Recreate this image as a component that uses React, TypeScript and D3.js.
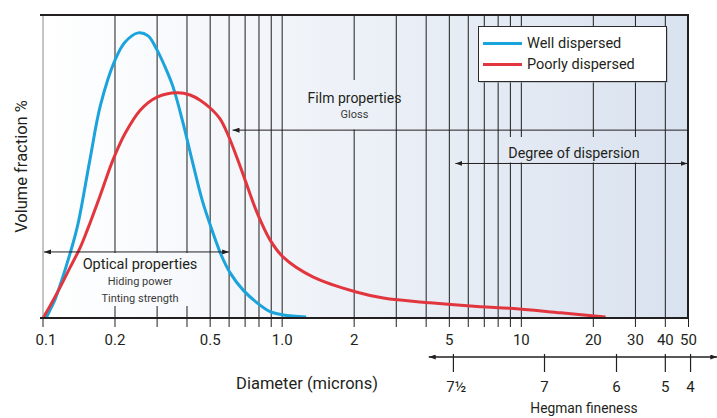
import * as d3 from 'd3';

// diameter (microns) vs volume fraction (% of peak scale)
const WELL: [number, number][] = [
  [0.103, 0], [0.107, 2.6], [0.112, 5.9], [0.118, 10.9], [0.13, 21.5], [0.14, 31.0],
  [0.157, 52.1], [0.174, 70.3], [0.2, 85.1], [0.22, 91.0], [0.25, 94.1], [0.275, 93.1],
  [0.3, 88.4], [0.324, 82.8], [0.35, 76.2], [0.385, 64.4], [0.42, 52.1], [0.463, 38.9],
  [0.509, 29.0], [0.556, 20.8], [0.606, 14.9], [0.687, 9.2], [0.786, 5.0], [0.891, 2.1],
  [1.01, 1.0], [1.26, 0.3],
];
const POOR: [number, number][] = [
  [0.1, 0], [0.107, 4.0], [0.118, 10.2], [0.13, 16.8], [0.143, 23.2], [0.154, 29.5],
  [0.173, 40.2], [0.196, 52.1], [0.22, 60.8], [0.255, 68.6], [0.3, 72.9], [0.364, 74.3],
  [0.412, 73.6], [0.454, 71.9], [0.5, 69.3], [0.55, 65.7], [0.594, 60.4], [0.648, 52.8],
  [0.7, 45.5], [0.786, 34.7], [0.891, 25.7], [1.01, 20.1], [1.35, 13.5], [2.04, 8.6],
  [2.65, 6.6], [4.16, 5.0], [6.74, 3.7], [9.0, 3.2], [14.6, 1.7], [22.5, 0.3],
];

const GRID_TICKS = [0.2, 0.3, 0.4, 0.5, 0.6, 0.7, 0.8, 0.9, 1, 2, 3, 4, 5, 6, 7, 8, 9, 10, 20, 30, 40, 50];
const AXIS_TICKS = [0.1, ...GRID_TICKS];
const TICK_LABELS: [number, string][] = [
  [0.1, '0.1'], [0.2, '0.2'], [0.5, '0.5'], [1, '1.0'], [2, '2'], [5, '5'],
  [10, '10'], [20, '20'], [30, '30'], [40, '40'], [50, '50'],
];
// Hegman fineness grades placed against the micron scale
const HEGMAN: [number, string][] = [[5.2, '7½'], [12.5, '7'], [25, '6'], [40, '5'], [51, '4']];
const HEGMAN_RANGE = [4.1, 66];

const SERIES = [
  { name: 'Well dispersed', data: WELL, color: '#1ba3dc' },
  { name: 'Poorly dispersed', data: POOR, color: '#e2363f' },
];

const FONT = 'Roboto, "Liberation Sans", sans-serif';
const INK = '#231f20';

const x = d3.scaleLog().domain([0.1, 50]).range([43, 688.5]);
const y = d3.scaleLinear().domain([0, 100]).range([318, 15]);
const line = d3.line<[number, number]>().x(d => x(d[0])).y(d => y(d[1])).curve(d3.curveCatmullRom.alpha(0.5));

export default function App() {
  const optY = y(21.8);
  const filmY = y(62);
  const degY = y(51);
  return (
    <div style={{ position: 'fixed', left: 0, top: 0 }}>
      <svg width={717} height={418} style={{ display: 'block', fontFamily: FONT }}>
        <defs>
          <linearGradient id="bg" gradientUnits="userSpaceOnUse" x1={43} x2={688} y1={0} y2={0}>
            <stop offset="0" stopColor="#ffffff" />
            <stop offset="1" stopColor="#d9e2ef" />
          </linearGradient>
          <marker id="arr" viewBox="0 0 7 5" refX={7} refY={2.5} markerWidth={7} markerHeight={5}
            markerUnits="userSpaceOnUse" orient="auto-start-reverse">
            <path d="M0,0 L7,2.5 L0,5 Z" fill={INK} />
          </marker>
        </defs>
        <rect width={717} height={418} fill="#fff" />
        <rect x={43} y={15} width={645} height={303} fill="url(#bg)" />

        {/* grid */}
        {GRID_TICKS.map(t => (
          <line key={t} x1={x(t)} x2={x(t)} y1={15} y2={318} stroke="#1e1e1e" strokeWidth={1} />
        ))}
        {/* label knock-outs */}
        <rect x={80} y={253} width={120} height={53} fill="url(#bg)" />
        <rect x={305} y={80} width={90} height={49.5} fill="url(#bg)" />
        <rect x={505} y={137} width={140} height={25.5} fill="url(#bg)" />

        {/* curves */}
        {SERIES.map(s => (
          <path key={s.name} d={line(s.data) ?? ''} fill="none" stroke={s.color} strokeWidth={3} strokeLinejoin="round" />
        ))}

        {/* optical properties */}
        <line x1={x(0.1) + 1} x2={x(0.6)} y1={optY} y2={optY} stroke={INK} strokeWidth={1}
          markerStart="url(#arr)" markerEnd="url(#arr)" />
        <text x={140} y={269} textAnchor="middle" fontSize={14.5} fill={INK}>Optical properties</text>
        <text x={140} y={285} textAnchor="middle" fontSize={11} fill="#3a3a3a">Hiding power</text>
        <text x={140} y={301.5} textAnchor="middle" fontSize={11} fill="#3a3a3a">Tinting strength</text>

        {/* film properties */}
        <line x1={x(0.62)} x2={x(50)} y1={filmY} y2={filmY} stroke={INK} strokeWidth={1}
          markerStart="url(#arr)" />
        <text x={354.5} y={103} textAnchor="middle" fontSize={14} fill={INK}>Film properties</text>
        <text x={354.5} y={118} textAnchor="middle" fontSize={11} fill="#3a3a3a">Gloss</text>

        {/* degree of dispersion */}
        <line x1={x(5.3)} x2={x(50) - 1} y1={degY} y2={degY} stroke={INK} strokeWidth={1}
          markerStart="url(#arr)" markerEnd="url(#arr)" />
        <text x={574} y={158} textAnchor="middle" fontSize={14.3} fill={INK}>Degree of dispersion</text>

        {/* frame */}
        <line x1={43} x2={43} y1={15} y2={318} stroke="#8a8a8a" strokeWidth={1} />
        <line x1={688} x2={688} y1={15} y2={318} stroke={INK} strokeWidth={2} />
        <line x1={40} x2={689} y1={15} y2={15} stroke={INK} strokeWidth={2.2} />
        <line x1={40} x2={689} y1={318} y2={318} stroke={INK} strokeWidth={2.2} />
        {AXIS_TICKS.map(t => (
          <line key={t} x1={x(t)} x2={x(t)} y1={318} y2={327} stroke={INK} strokeWidth={1} />
        ))}
        {TICK_LABELS.map(([t, l]) => (
          <text key={t} x={x(t) + (t === 0.1 ? 3 : 0)} y={345} textAnchor="middle" fontSize={15} fill={INK}>{l}</text>
        ))}
        <text x={307} y={389} textAnchor="middle" fontSize={16.5} fill={INK}>Diameter (microns)</text>
        <text transform="translate(26.5,166.5) rotate(-90)" textAnchor="middle" fontSize={16.5} fill={INK}>
          Volume fraction %
        </text>

        {/* Hegman scale */}
        <line x1={x(HEGMAN_RANGE[0])} x2={x(HEGMAN_RANGE[1])} y1={357} y2={357} stroke={INK} strokeWidth={1.4}
          markerStart="url(#arr)" markerEnd="url(#arr)" />
        {HEGMAN.map(([u, l]) => (
          <g key={l}>
            <line x1={x(u)} x2={x(u)} y1={354} y2={372} stroke={INK} strokeWidth={1.2} />
            <text x={x(u) + (l === '7½' ? 3 : 0)} y={392} textAnchor="middle" fontSize={15} fill={INK}>{l}</text>
          </g>
        ))}
        <text x={584} y={413} textAnchor="middle" fontSize={13.8} fill={INK}>Hegman fineness</text>

        {/* legend */}
        <rect x={479.5} y={27.5} width={188} height={55} fill="#9aa0a8" />
        <rect x={478.5} y={26.5} width={188} height={55} fill="#fff" stroke="#2a2a2a" strokeWidth={1} />
        {SERIES.map((s, i) => (
          <g key={s.name} transform={`translate(0,${43.5 + i * 21})`}>
            <line x1={483} x2={522} y1={0} y2={0} stroke={s.color} strokeWidth={3} />
            <text x={527} y={4.8} fontSize={14.5} fill={INK}>{s.name}</text>
          </g>
        ))}
      </svg>
    </div>
  );
}
